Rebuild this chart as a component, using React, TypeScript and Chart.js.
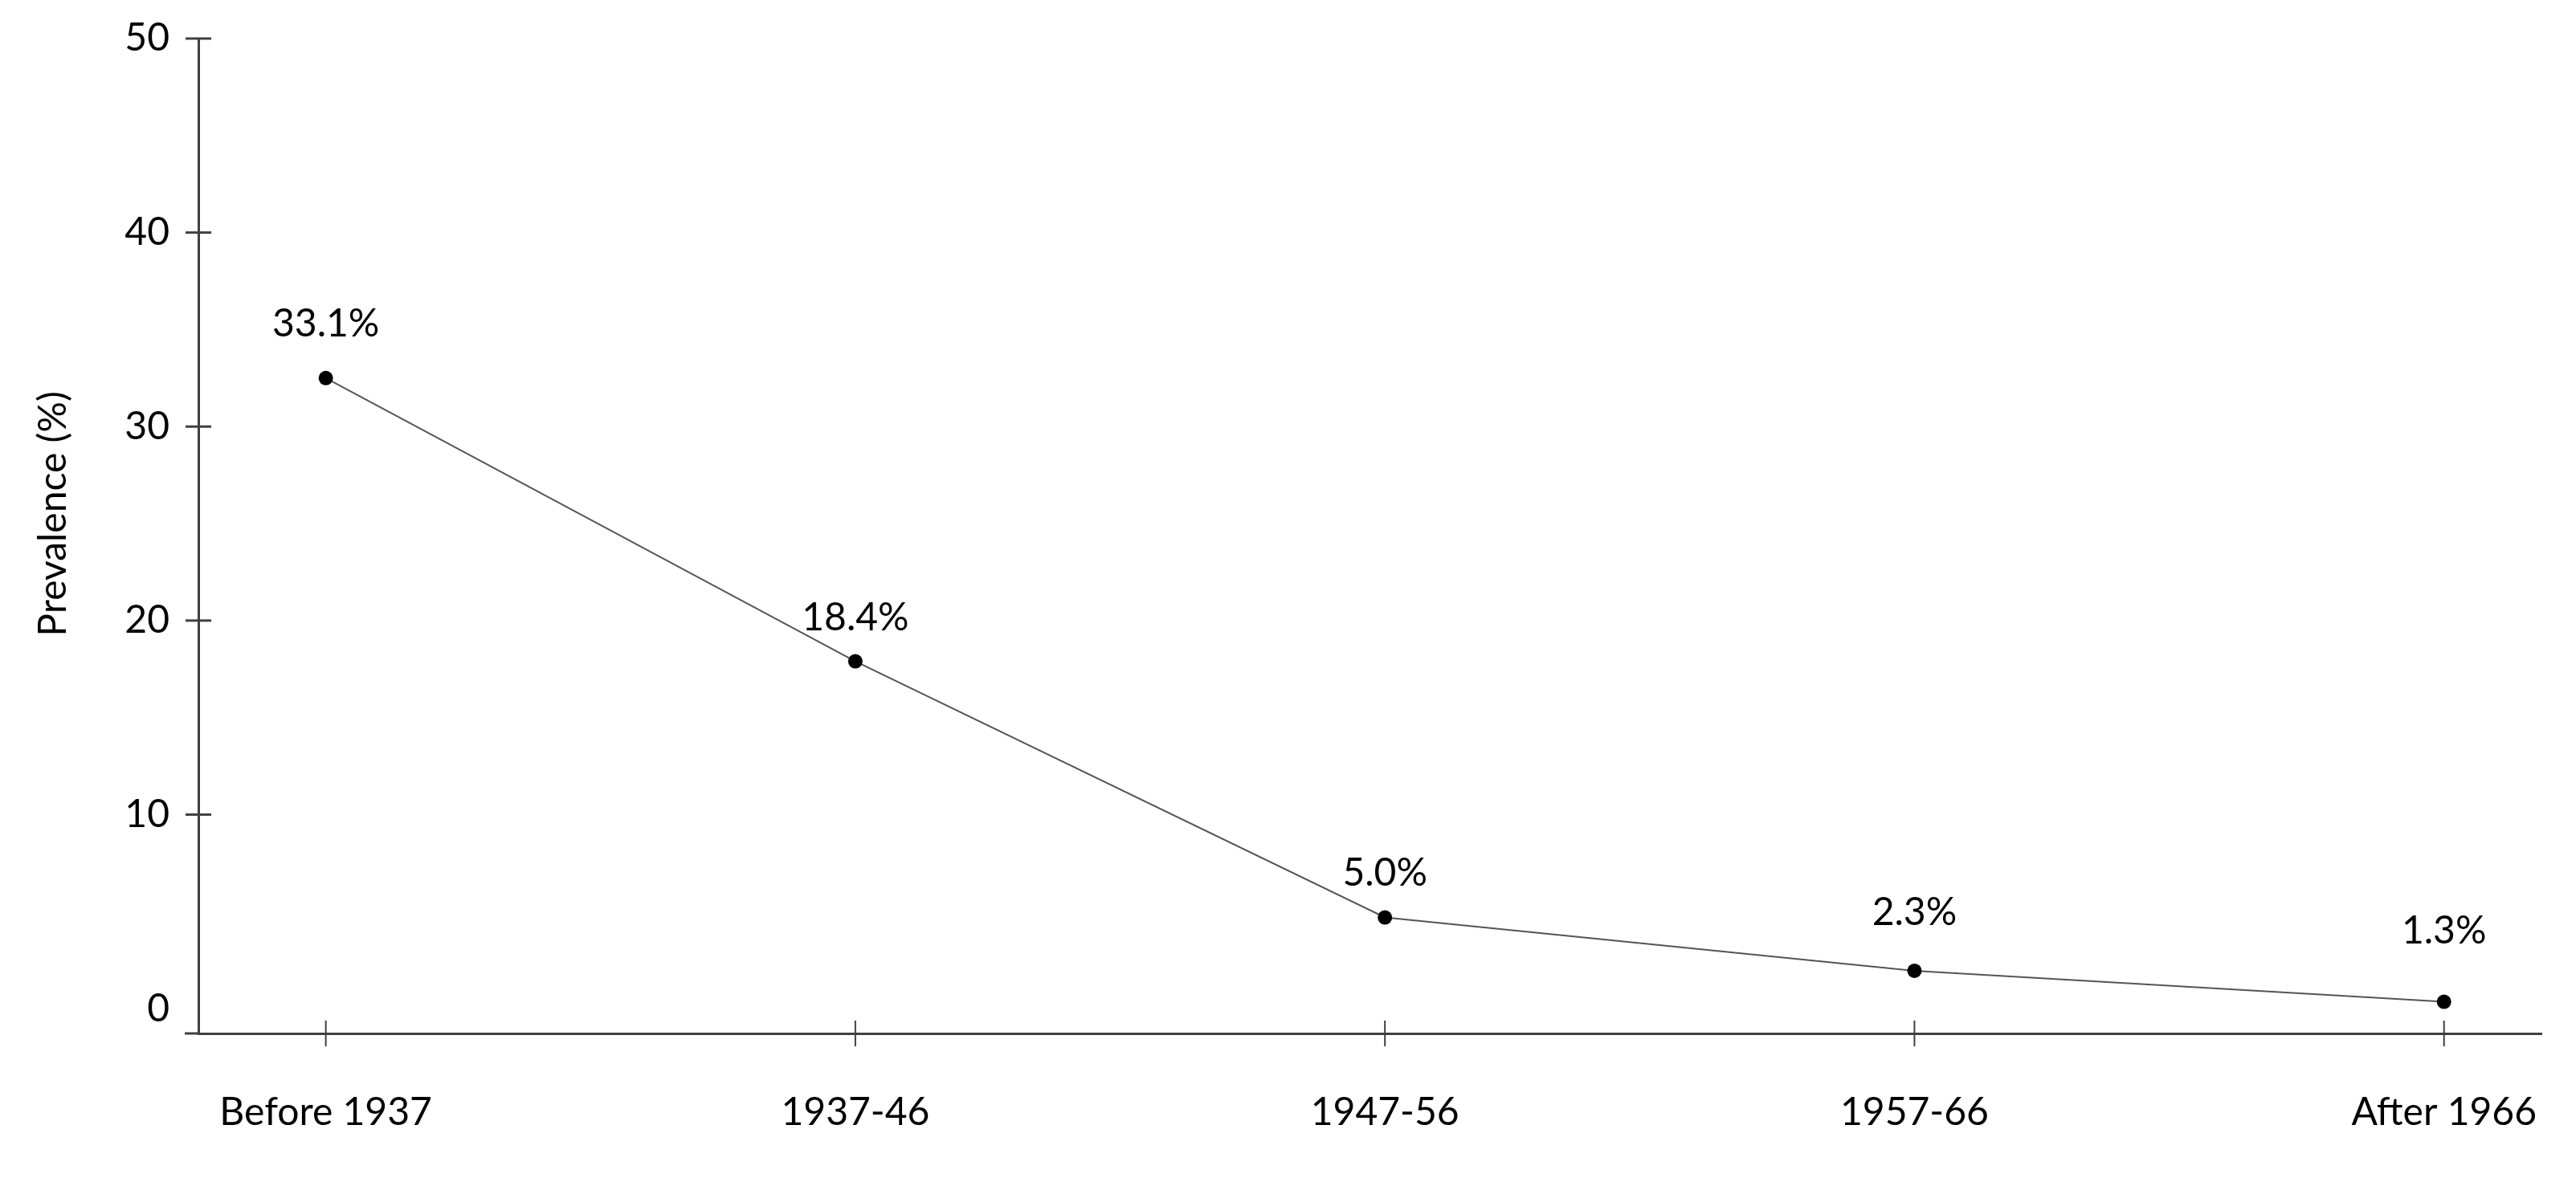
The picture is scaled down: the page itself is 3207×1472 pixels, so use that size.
import React, { useEffect, useRef } from "react";
import { Chart, registerables } from "chart.js";

Chart.register(...registerables);

const categories = ["Before 1937", "1937-46", "1947-56", "1957-66", "After 1966"];
const prevalence = [32.5, 17.9, 4.7, 1.95, 0.35];
const valueLabels = ["33.1%", "18.4%", "5.0%", "2.3%", "1.3%"];
const yTicks = [0, 10, 20, 30, 40, 50];
const yTitle = "Prevalence (%)";

const FONT = "Lato";
const FONT_SIZE = 48;
const AXIS_COLOR = "#404040";
const LABEL_OFFSETS = [67, 54, 55, 72, 88];

const decorPlugin = {
  id: "decor",
  afterDraw(chart: any) {
    const { ctx, chartArea } = chart;
    const x = chart.scales.x;
    const y = chart.scales.y;
    const line = (x1: number, y1: number, x2: number, y2: number) => {
      ctx.beginPath();
      ctx.moveTo(x1, y1);
      ctx.lineTo(x2, y2);
      ctx.stroke();
    };
    ctx.save();
    ctx.strokeStyle = AXIS_COLOR;
    ctx.lineWidth = 3;
    yTicks.forEach((v) => {
      if (v === 0) return;
      const py = y.getPixelForValue(v);
      line(chartArea.left - 16, py, chartArea.left + 16, py);
    });
    line(chartArea.left - 17, chartArea.bottom, chartArea.left, chartArea.bottom);
    ctx.lineWidth = 2;
    categories.forEach((_, i) => {
      const px = x.getPixelForValue(i);
      line(px, chartArea.bottom - 16, px, chartArea.bottom + 16);
    });

    ctx.fillStyle = "#000";
    ctx.font = `${FONT_SIZE}px ${FONT}`;
    ctx.textAlign = "center";
    ctx.textBaseline = "middle";
    const meta = chart.getDatasetMeta(0);
    meta.data.forEach((pt: any, i: number) => {
      ctx.fillText(valueLabels[i], pt.x, pt.y - LABEL_OFFSETS[i]);
    });

    ctx.translate(67, 640);
    ctx.rotate(-Math.PI / 2);
    ctx.fillText(yTitle, 0, 0);
    ctx.restore();
  },
};

export default function App() {
  const ref = useRef<HTMLCanvasElement | null>(null);
  useEffect(() => {
    document.body.style.margin = "0";
    const canvas = ref.current;
    if (!canvas) return;
    const chart = new Chart(canvas, {
      type: "line",
      data: {
        datasets: [
          {
            data: prevalence.map((v, i) => ({ x: i, y: v })),
            borderColor: "#555555",
            borderWidth: 2,
            pointRadius: 9,
            pointBackgroundColor: "#000",
            pointBorderColor: "#000",
            pointBorderWidth: 0,
            fill: false,
            tension: 0,
          },
        ],
      },
      options: {
        responsive: false,
        animation: false,
        devicePixelRatio: 1,
        layout: { padding: { left: 0, top: 48, right: 43, bottom: 0 } },
        plugins: { legend: { display: false }, tooltip: { enabled: false } },
        scales: {
          x: {
            type: "linear",
            min: -0.2406,
            max: 4.184,
            afterBuildTicks: (axis: any) => {
              axis.ticks = categories.map((_, i) => ({ value: i }));
            },
            afterFit: (scale: any) => {
              scale.height = 185;
              scale.paddingLeft = 0;
              scale.paddingRight = 0;
              scale.paddingTop = 0;
              scale.paddingBottom = 0;
            },
            grid: { display: false, drawTicks: false },
            border: { display: true, color: AXIS_COLOR, width: 3 },
            ticks: {
              autoSkip: false,
              maxRotation: 0,
              minRotation: 0,
              padding: 70,
              color: "#000",
              font: { family: FONT, size: FONT_SIZE },
              callback: (v: any) => categories[v] ?? "",
            },
          },
          y: {
            type: "linear",
            min: -1.28,
            max: 50,
            afterBuildTicks: (axis: any) => {
              axis.ticks = yTicks.map((v) => ({ value: v }));
            },
            afterFit: (scale: any) => {
              scale.width = 247;
              scale.paddingLeft = 0;
              scale.paddingRight = 0;
              scale.paddingTop = 0;
              scale.paddingBottom = 0;
            },
            grid: { display: false, drawTicks: false },
            border: { display: true, color: AXIS_COLOR, width: 3 },
            ticks: {
              padding: 36,
              color: "#000",
              font: { family: FONT, size: FONT_SIZE },
            },
          },
        },
      },
      plugins: [decorPlugin],
    } as any);
    return () => chart.destroy();
  }, []);
  return (
    <div style={{ width: 3207, height: 1472, overflow: "hidden", background: "#fff" }}>
      <canvas ref={ref} width={3207} height={1472} style={{ display: "block" }} />
    </div>
  );
}
